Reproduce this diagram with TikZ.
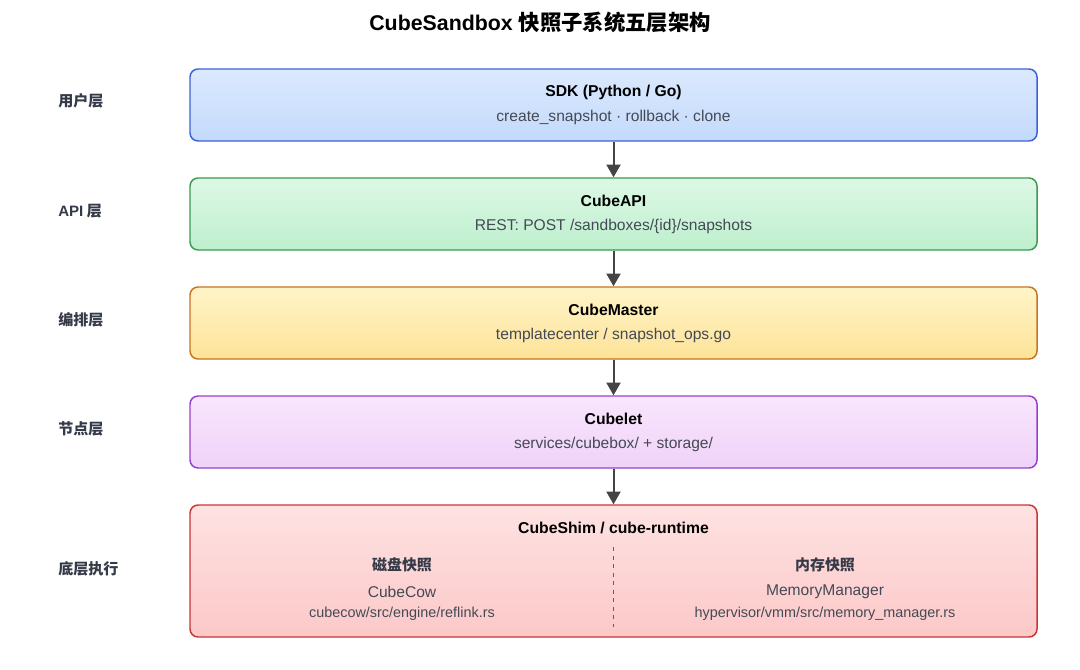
\documentclass[tikz,border=0pt]{standalone}
\usepackage{fontspec}
\setmainfont{Liberation Sans}
\newfontfamily\cjk{Noto Sans CJK SC}
\usetikzlibrary{arrows.meta}
\definecolor{bluetop}{HTML}{DCE9FE}
\definecolor{bluebot}{HTML}{C3DAFB}
\definecolor{blueline}{HTML}{3A62D9}
\definecolor{greentop}{HTML}{DDF8E6}
\definecolor{greenbot}{HTML}{BDEFCD}
\definecolor{greenline}{HTML}{3C9A52}
\definecolor{yellowtop}{HTML}{FFF4C8}
\definecolor{yellowbot}{HTML}{FDE398}
\definecolor{yellowline}{HTML}{C8731E}
\definecolor{purpletop}{HTML}{F9E6FD}
\definecolor{purplebot}{HTML}{EFD2F8}
\definecolor{purpleline}{HTML}{9740CC}
\definecolor{redtop}{HTML}{FEE2E2}
\definecolor{redbot}{HTML}{FCC8C8}
\definecolor{redline}{HTML}{CC3333}
\definecolor{labelc}{HTML}{343A48}
\definecolor{subc}{HTML}{444A55}
\definecolor{arrc}{HTML}{444444}
\begin{document}
\begin{tikzpicture}[x=0.75pt,y=-0.75pt,
  layer/.style={draw, rounded corners=6pt, line width=1.1pt, minimum width=635.25pt, inner sep=0pt},
  ttl/.style={font=\fontsize{11.8}{14}\selectfont\bfseries, text=black, inner sep=0pt},
  sub/.style={font=\fontsize{11.7}{14}\selectfont, text=subc, inner sep=0pt},
  path/.style={font=\fontsize{10.8}{13}\selectfont, text=subc, inner sep=0pt},
  side/.style={font=\fontsize{11.3}{13}\selectfont\bfseries\cjk, text=labelc, anchor=west, inner sep=0pt},
  half/.style={font=\fontsize{11.2}{13}\selectfont\bfseries\cjk, text=labelc, inner sep=0pt},
  arr/.style={draw=arrc, line width=1.5pt, -{Triangle[length=9.5pt,width=10.5pt]}}]
\useasboundingbox (0,0) rectangle (1080,670);
\node[font=\fontsize{16}{19}\selectfont\bfseries, inner sep=0pt] (title) at (540,22) {CubeSandbox {\cjk 快照子系统五层架构}};

\node[layer, minimum height=54pt, top color=bluetop, bottom color=bluebot, draw=blueline] (sdk) at (613.5,105) {};
\node[layer, minimum height=54pt, top color=greentop, bottom color=greenbot, draw=greenline] (api) at (613.5,214) {};
\node[layer, minimum height=54pt, top color=yellowtop, bottom color=yellowbot, draw=yellowline] (master) at (613.5,323) {};
\node[layer, minimum height=54pt, top color=purpletop, bottom color=purplebot, draw=purpleline] (cubelet) at (613.5,432) {};
\node[layer, minimum height=99pt, top color=redtop, bottom color=redbot, draw=redline] (shim) at (613.5,571) {};

\node[side] (l1) at (58,101) {用户层};
\node[side] (l2) at (58,211) {{\rmfamily\bfseries API} 层};
\node[side] (l3) at (58,320) {编排层};
\node[side] (l4) at (58,429) {节点层};
\node[side] (l5) at (58,569) {底层执行};

\node[ttl] (sdkT) at (613.5,92) {SDK (Python / Go)};
\node[sub] (sdkS) at (613.5,117) {create\_snapshot · rollback · clone};
\node[ttl] (apiT) at (613.5,201) {CubeAPI};
\node[sub] (apiS) at (613.5,226) {REST: POST /sandboxes/\{id\}/snapshots};
\node[ttl] (masterT) at (613.5,310) {CubeMaster};
\node[sub] (masterS) at (613.5,335) {templatecenter / snapshot\_ops.go};
\node[ttl] (cubeletT) at (613.5,419) {Cubelet};
\node[sub] (cubeletS) at (613.5,444) {services/cubebox/ + storage/};
\node[ttl] (shimT) at (613.5,528) {CubeShim / cube-runtime};

\node[half] (diskT) at (402,565) {磁盘快照};
\node[sub] (diskS) at (402,592) {CubeCow};
\node[path] (diskP) at (402,614) {cubecow/src/engine/reflink.rs};
\node[half] (memT) at (825,565) {内存快照};
\node[sub] (memS) at (825,592) {MemoryManager};
\node[path] (memP) at (825,614) {hypervisor/vmm/src/memory\_manager.rs};

\coordinate (divA) at (613.5,547);
\coordinate (divB) at (613.5,627);
\draw[redline, line width=0.9pt, dash pattern=on 3pt off 3.4pt] (divA) -- (divB);

\draw[arr] (sdk.south) -- (api.north);
\draw[arr] (api.south) -- (master.north);
\draw[arr] (master.south) -- (cubelet.north);
\draw[arr] (cubelet.south) -- (shim.north);
\end{tikzpicture}
\end{document}
